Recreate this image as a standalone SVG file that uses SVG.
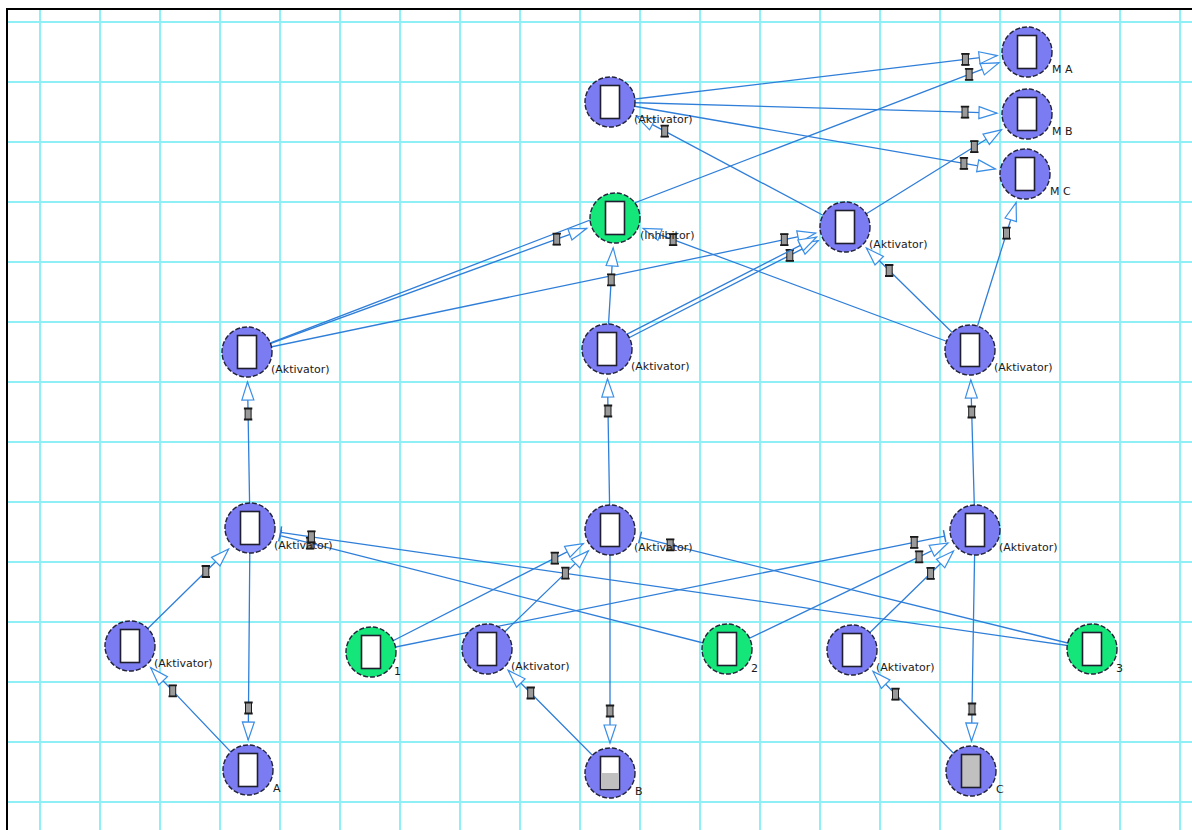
<svg xmlns="http://www.w3.org/2000/svg" width="1192" height="830" viewBox="0 0 1192 830">
<style>
.grid line{stroke:#8ef0f6;stroke-width:2}
.e{fill:none;stroke:#2f7ed8;stroke-width:1.3}
.act{marker-mid:url(#ii);marker-end:url(#arr)}
.inh{marker-mid:url(#ii);marker-end:url(#bar)}
.blue{fill:#7b7bf2;stroke:#22223a;stroke-width:1.4;stroke-dasharray:5 2}
.green{fill:#14e67a;stroke:#22223a;stroke-width:1.4;stroke-dasharray:5 2}
.box{fill:#ffffff;stroke:#1e1e2e;stroke-width:1.6}
.lbl{font-family:"DejaVu Sans","Liberation Sans",sans-serif;font-size:11px;fill:#1a1a1a}
</style>
<defs>
<marker id="arr" markerUnits="userSpaceOnUse" viewBox="0 0 20 14" refX="18.5" refY="7" markerWidth="20" markerHeight="14" orient="auto" overflow="visible">
<path d="M0.5,1 L18.5,7 L0.5,13 Z" fill="#ffffff" stroke="#3a8ee6" stroke-width="1.2"/>
</marker>
<marker id="bar" markerUnits="userSpaceOnUse" viewBox="-2 -7 4 14" refX="0" refY="0" markerWidth="4" markerHeight="14" orient="auto" overflow="visible">
<path d="M0,-6 L0,6" stroke="#2f7ed8" stroke-width="1.5"/>
</marker>
<marker id="ii" markerUnits="userSpaceOnUse" viewBox="-5 -7 10 14" refX="0" refY="0" markerWidth="10" markerHeight="14" overflow="visible">
<rect x="-3" y="-5.5" width="6" height="11" fill="#9a9a9a" stroke="#1a1a1a" stroke-width="1"/>
<path d="M-4.2,-5.5 H4.2 M-4.2,5.5 H4.2" stroke="#1a1a1a" stroke-width="1.8"/>
</marker>
</defs>
<rect x="0" y="0" width="1192" height="830" fill="#ffffff"/>
<g class="grid">
<line x1="40" y1="10" x2="40" y2="830"/><line x1="100" y1="10" x2="100" y2="830"/><line x1="160" y1="10" x2="160" y2="830"/><line x1="220" y1="10" x2="220" y2="830"/><line x1="280" y1="10" x2="280" y2="830"/><line x1="340" y1="10" x2="340" y2="830"/><line x1="400" y1="10" x2="400" y2="830"/><line x1="460" y1="10" x2="460" y2="830"/><line x1="520" y1="10" x2="520" y2="830"/><line x1="580" y1="10" x2="580" y2="830"/><line x1="640" y1="10" x2="640" y2="830"/><line x1="700" y1="10" x2="700" y2="830"/><line x1="760" y1="10" x2="760" y2="830"/><line x1="820" y1="10" x2="820" y2="830"/><line x1="880" y1="10" x2="880" y2="830"/><line x1="940" y1="10" x2="940" y2="830"/><line x1="1000" y1="10" x2="1000" y2="830"/><line x1="1060" y1="10" x2="1060" y2="830"/><line x1="1120" y1="10" x2="1120" y2="830"/><line x1="1180" y1="10" x2="1180" y2="830"/>
<line x1="8" y1="22" x2="1192" y2="22"/><line x1="8" y1="82" x2="1192" y2="82"/><line x1="8" y1="142" x2="1192" y2="142"/><line x1="8" y1="202" x2="1192" y2="202"/><line x1="8" y1="262" x2="1192" y2="262"/><line x1="8" y1="322" x2="1192" y2="322"/><line x1="8" y1="382" x2="1192" y2="382"/><line x1="8" y1="442" x2="1192" y2="442"/><line x1="8" y1="502" x2="1192" y2="502"/><line x1="8" y1="562" x2="1192" y2="562"/><line x1="8" y1="622" x2="1192" y2="622"/><line x1="8" y1="682" x2="1192" y2="682"/><line x1="8" y1="742" x2="1192" y2="742"/><line x1="8" y1="802" x2="1192" y2="802"/>
</g>
<path d="M7,830 V9 H1192" fill="none" stroke="#000" stroke-width="2"/>
<g id="connectors">
<path class="e act" d="M610,102 L965.4,59.4 L997.2,55.6"/>
<path class="e act" d="M610,102 L965,112.2 L997,113.1"/>
<path class="e act" d="M610,102 L963.9,163.4 L995.4,168.9"/>
<path class="e act" d="M247,352 L969.1,74.3 L999,62.8"/>
<path class="e act" d="M247,352 L556.7,239.2 L586.8,228.3"/>
<path class="e act" d="M247,352 L784.3,239.7 L815.6,233.1"/>
<path class="e act" d="M845,227 L974.3,146.7 L1001.5,129.8"/>
<path class="e act" d="M845,227 L664.7,131.1 L636.5,116.1"/>
<path class="e act" d="M970,350 L1006.5,233.2 L1016.1,202.6"/>
<path class="e act" d="M970,350 L889.2,270.5 L866.4,248"/>
<path class="e act" d="M970,350 L673.1,239.6 L643.1,228.5"/>
<path class="e act" d="M607,349 L611.2,279.9 L613.2,247.9"/>
<path class="e act" d="M607,349 L789.8,255.3 L818.3,240.7"/>
<path class="e" marker-end="url(#arr)" d="M605.2,345.4 L816.5,237.1"/>
<path class="e act" d="M250,528 L248.1,414 L247.5,382"/>
<path class="e act" d="M250,528 L248.5,708 L248.2,740"/>
<path class="e act" d="M130,646 L205.8,571.5 L228.6,549"/>
<path class="e act" d="M248,770 L172.7,690.9 L150.7,667.7"/>
<path class="e inh" d="M727,649 L310.1,543.2 L280.1,535.6"/>
<path class="e inh" d="M1092,649 L311.4,536.8 L280.7,532.4"/>
<path class="e act" d="M610,530 L608,411 L607.5,379"/>
<path class="e act" d="M610,530 L610,711 L610,743"/>
<path class="e act" d="M371,652 L554.8,558.2 L583.3,543.6"/>
<path class="e act" d="M487,649 L565.4,573.1 L588.4,550.9"/>
<path class="e inh" d="M1092,649 L670.2,544.9 L640.1,537.4"/>
<path class="e act" d="M610,773 L530.7,693 L508.1,670.3"/>
<path class="e act" d="M975,530 L971.7,412 L970.8,380"/>
<path class="e act" d="M975,530 L972,709 L971.5,741"/>
<path class="e inh" d="M371,652 L914.2,542.3 L944.6,536.1"/>
<path class="e act" d="M727,649 L919.1,556.8 L948,543"/>
<path class="e act" d="M852,650 L930.6,573.3 L953.5,551"/>
<path class="e act" d="M971,771 L895.5,694.2 L873,671.4"/>
</g>
<g id="n-top"><circle class="blue" cx="610" cy="102" r="25"/><rect class="box" x="600.5" y="85.5" width="19" height="33"/><text class="lbl" x="634" y="123">(Aktivator)</text></g>
<g id="n-ma"><circle class="blue" cx="1027" cy="52" r="25"/><rect class="box" x="1017.5" y="35.5" width="19" height="33"/><text class="lbl" x="1052" y="73">M A</text></g>
<g id="n-mb"><circle class="blue" cx="1027" cy="114" r="25"/><rect class="box" x="1017.5" y="97.5" width="19" height="33"/><text class="lbl" x="1052" y="135">M B</text></g>
<g id="n-mc"><circle class="blue" cx="1025" cy="174" r="25"/><rect class="box" x="1015.5" y="157.5" width="19" height="33"/><text class="lbl" x="1050" y="195">M C</text></g>
<g id="n-inh"><circle class="green" cx="615" cy="218" r="25"/><rect class="box" x="605.5" y="201.5" width="19" height="33"/><text class="lbl" x="640" y="239">(Inhibitor)</text></g>
<g id="n-rm"><circle class="blue" cx="845" cy="227" r="25"/><rect class="box" x="835.5" y="210.5" width="19" height="33"/><text class="lbl" x="869" y="248">(Aktivator)</text></g>
<g id="n-r3l"><circle class="blue" cx="247" cy="352" r="25"/><rect class="box" x="237.5" y="335.5" width="19" height="33"/><text class="lbl" x="271" y="373">(Aktivator)</text></g>
<g id="n-r3m"><circle class="blue" cx="607" cy="349" r="25"/><rect class="box" x="597.5" y="332.5" width="19" height="33"/><text class="lbl" x="631" y="370">(Aktivator)</text></g>
<g id="n-r3r"><circle class="blue" cx="970" cy="350" r="25"/><rect class="box" x="960.5" y="333.5" width="19" height="33"/><text class="lbl" x="994" y="371">(Aktivator)</text></g>
<g id="n-r4l"><circle class="blue" cx="250" cy="528" r="25"/><rect class="box" x="240.5" y="511.5" width="19" height="33"/><text class="lbl" x="274" y="549">(Aktivator)</text></g>
<g id="n-r4m"><circle class="blue" cx="610" cy="530" r="25"/><rect class="box" x="600.5" y="513.5" width="19" height="33"/><text class="lbl" x="634" y="551">(Aktivator)</text></g>
<g id="n-r4r"><circle class="blue" cx="975" cy="530" r="25"/><rect class="box" x="965.5" y="513.5" width="19" height="33"/><text class="lbl" x="999" y="551">(Aktivator)</text></g>
<g id="n-r5l"><circle class="blue" cx="130" cy="646" r="25"/><rect class="box" x="120.5" y="629.5" width="19" height="33"/><text class="lbl" x="154" y="667">(Aktivator)</text></g>
<g id="n-g1"><circle class="green" cx="371" cy="652" r="25"/><rect class="box" x="361.5" y="635.5" width="19" height="33"/><text class="lbl" x="394" y="675">1</text></g>
<g id="n-r5m"><circle class="blue" cx="487" cy="649" r="25"/><rect class="box" x="477.5" y="632.5" width="19" height="33"/><text class="lbl" x="511" y="670">(Aktivator)</text></g>
<g id="n-g2"><circle class="green" cx="727" cy="649" r="25"/><rect class="box" x="717.5" y="632.5" width="19" height="33"/><text class="lbl" x="751" y="672">2</text></g>
<g id="n-r5r"><circle class="blue" cx="852" cy="650" r="25"/><rect class="box" x="842.5" y="633.5" width="19" height="33"/><text class="lbl" x="876" y="671">(Aktivator)</text></g>
<g id="n-g3"><circle class="green" cx="1092" cy="649" r="25"/><rect class="box" x="1082.5" y="632.5" width="19" height="33"/><text class="lbl" x="1116" y="672">3</text></g>
<g id="n-a"><circle class="blue" cx="248" cy="770" r="25"/><rect class="box" x="238.5" y="753.5" width="19" height="33"/><text class="lbl" x="273" y="792">A</text></g>
<g id="n-b"><circle class="blue" cx="610" cy="773" r="25"/><rect class="box" x="600.5" y="756.5" width="19" height="33"/><rect x="601.3" y="773" width="17.4" height="15.7" fill="#c0c0c0"/><text class="lbl" x="635" y="795">B</text></g>
<g id="n-c"><circle class="blue" cx="971" cy="771" r="25"/><rect class="box" x="961.5" y="754.5" width="19" height="33" style="fill:#c0c0c0"/><text class="lbl" x="996" y="793">C</text></g>
</svg>
